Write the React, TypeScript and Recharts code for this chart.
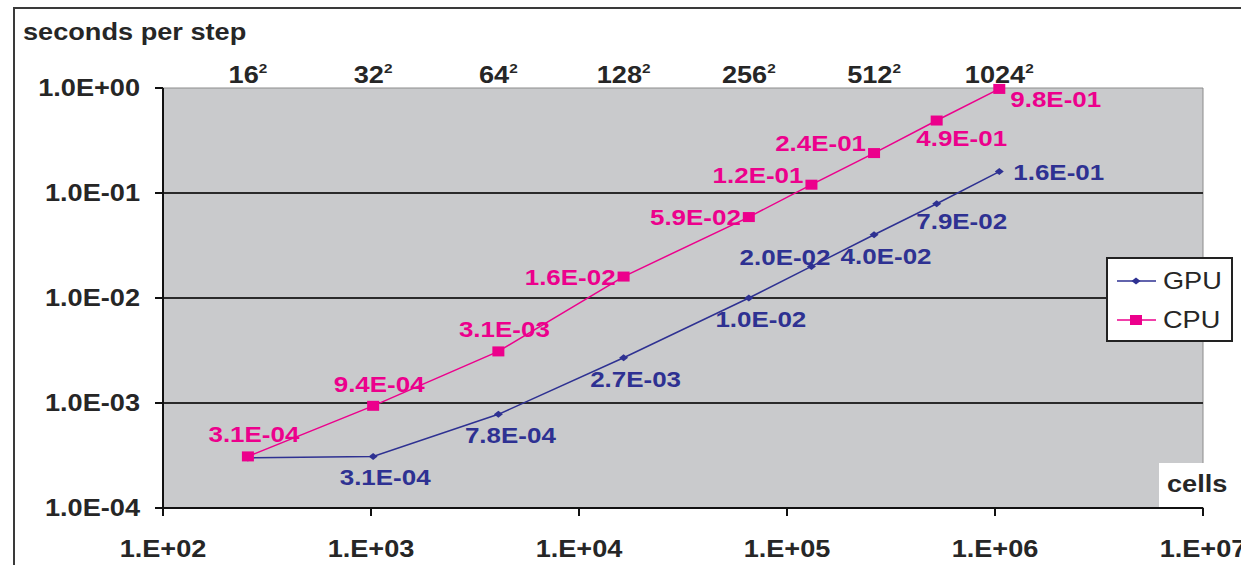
import { LineChart, Line, XAxis, YAxis, CartesianGrid, ReferenceLine, LabelList } from "recharts";

// number of cells (grid side squared)
const GRID_SIDES = [16, 32, 64, 128, 256, 512, 1024];
const CELLS = [256, 1024, 4096, 16384, 65536, 131072, 262144, 524288, 1048576];
const GPU_TIMES = [3.0e-4, 3.1e-4, 7.8e-4, 2.7e-3, 1.0e-2, 2.0e-2, 4.0e-2, 7.9e-2, 1.6e-1];
const CPU_TIMES = [3.1e-4, 9.4e-4, 3.1e-3, 1.6e-2, 5.9e-2, 1.2e-1, 2.4e-1, 4.9e-1, 9.8e-1];

const X_TICKS = [1e2, 1e3, 1e4, 1e5, 1e6, 1e7];
const Y_TICKS = [1e-4, 1e-3, 1e-2, 1e-1, 1];
const GRID_LINES = [1e-3, 1e-2, 1e-1];

// where each value label sits next to its point
const GPU_PLACE = [null, "bottom", "bottom", "bottom", "bottom", "overLeft", "bottom", "downRight", "right"];
const CPU_PLACE = ["top", "top", "top", "left", "left", "upLeft", "upLeft", "downRight", "rightLow"];

const GPU_COLOR = "#2e3192";
const CPU_COLOR = "#ec008c";
const TEXT = "#262626";
const FONT = "'Liberation Sans', Arial, sans-serif";
const SX = 1.18; // the picture is a bit wider than tall

const data = CELLS.map((c, i) => ({ cells: c, gpu: GPU_TIMES[i], cpu: CPU_TIMES[i] }));

const PLACE: Record<string, { dx: number; dy: number; anchor: "start" | "middle" | "end" }> = {
  top: { dx: 6, dy: -22, anchor: "middle" },
  bottom: { dx: 12, dy: 21, anchor: "middle" },
  left: { dx: -8, dy: 0, anchor: "end" },
  upLeft: { dx: -8, dy: -10, anchor: "end" },
  overLeft: { dx: 19, dy: -9, anchor: "end" },
  downRight: { dx: 25, dy: 17, anchor: "middle" },
  right: { dx: 14, dy: 0, anchor: "start" },
  rightLow: { dx: 11, dy: 10, anchor: "start" },
};

const sci = (v: number) => {
  const [m, e] = v.toExponential(1).split("e");
  const n = Math.abs(parseInt(e, 10));
  return `${m}E${e.startsWith("-") ? "-" : "+"}${n < 10 ? "0" + n : n}`;
};

const xLabel = (v: number) => {
  const e = Math.round(Math.log10(v));
  return `1.E+${e < 10 ? "0" + e : e}`;
};

const Stretch = ({ x, y, anchor, size, weight, fill, children }: any) => (
  <text
    transform={`translate(${x} ${y}) scale(${SX} 1)`}
    textAnchor={anchor}
    fontSize={size}
    fontWeight={weight}
    fill={fill}
    fontFamily={FONT}
  >
    {children}
  </text>
);

const makeLabel = (places: (string | null)[], color: string) => (props: any) => {
  const { x, y, value, index } = props;
  const p = places[index];
  if (!p) return null;
  const o = PLACE[p];
  return (
    <Stretch x={x + o.dx} y={y + o.dy + 8} anchor={o.anchor} size={22} weight="bold" fill={color}>
      {sci(value)}
    </Stretch>
  );
};

const YTick = ({ x, y, payload }: any) => (
  <Stretch x={x} y={y + 8} anchor="end" size={23} weight="bold" fill={TEXT}>
    {sci(payload.value)}
  </Stretch>
);

const XTick = ({ x, y, payload }: any) => (
  <Stretch x={x} y={y + 39} anchor="middle" size={23} weight="bold" fill={TEXT}>
    {xLabel(payload.value)}
  </Stretch>
);

const TopTick = ({ x, y, payload }: any) => {
  const side = Math.round(Math.sqrt(payload.value));
  return (
    <Stretch x={x} y={y - 5} anchor="middle" size={23} weight="bold" fill={TEXT}>
      {side}
      <tspan fontSize={13} dy={-10}>2</tspan>
    </Stretch>
  );
};

const Square = ({ cx, cy }: any) => <rect x={cx - 6} y={cy - 5} width={12} height={10} fill={CPU_COLOR} />;
const Diamond = ({ cx, cy }: any) => (
  <polygon points={`${cx - 4.5},${cy} ${cx},${cy - 3.5} ${cx + 4.5},${cy} ${cx},${cy + 3.5}`} fill={GPU_COLOR} />
);

export default function App() {
  return (
    <div style={{ position: "absolute", left: 0, top: 0, width: 1241, height: 565, overflow: "hidden", background: "#fff" }}>
      <div
        style={{
          position: "absolute", left: 13, top: 7, width: 1400, height: 700,
          borderLeft: "2px solid #3a3a3a", borderTop: "2px solid #3a3a3a",
        }}
      />
      <LineChart width={1241} height={565} data={data} margin={{ top: 0, right: 38, bottom: 0, left: 0 }}>
        <CartesianGrid fill="#c9cacc" horizontal={false} vertical={false} />
        <XAxis
          dataKey="cells" type="number" scale="log" domain={[1e2, 1e7]} ticks={X_TICKS}
          height={57} tickSize={8} tickMargin={2} tick={<XTick />}
          axisLine={{ stroke: "#111", strokeWidth: 2 }} tickLine={{ stroke: "#111", strokeWidth: 2 }}
        />
        <XAxis
          xAxisId="top" orientation="top" dataKey="cells" type="number" scale="log" domain={[1e2, 1e7]}
          ticks={GRID_SIDES.map((n) => n * n)} height={88} tickSize={0} tickMargin={0}
          axisLine={false} tickLine={false} tick={<TopTick />}
        />
        <YAxis
          type="number" scale="log" domain={[1e-4, 1]} ticks={Y_TICKS} width={163}
          tickSize={8} tickMargin={15} tick={<YTick />}
          axisLine={{ stroke: "#111", strokeWidth: 2 }} tickLine={{ stroke: "#111", strokeWidth: 2 }}
        />
        <ReferenceLine y={1} stroke="#8c8c8c" strokeWidth={1} />
        <ReferenceLine x={1e7} stroke="#8c8c8c" strokeWidth={1} />
        {GRID_LINES.map((v) => (
          <ReferenceLine key={v} y={v} stroke="#2a2a2a" strokeWidth={2} />
        ))}
        <Line dataKey="gpu" stroke={GPU_COLOR} strokeWidth={1.5} dot={<Diamond />} activeDot={false} isAnimationActive={false}>
          <LabelList dataKey="gpu" content={makeLabel(GPU_PLACE, GPU_COLOR)} />
        </Line>
        <Line dataKey="cpu" stroke={CPU_COLOR} strokeWidth={1.5} dot={<Square />} activeDot={false} isAnimationActive={false}>
          <LabelList dataKey="cpu" content={makeLabel(CPU_PLACE, CPU_COLOR)} />
        </Line>
      </LineChart>

      <div
        style={{
          position: "absolute", left: 23, top: 19, fontFamily: FONT, fontSize: 23, lineHeight: "26px",
          fontWeight: "bold", color: TEXT, transform: `scaleX(${SX})`, transformOrigin: "left center", whiteSpace: "nowrap",
        }}
      >
        seconds per step
      </div>

      <div style={{ position: "absolute", left: 1159, top: 463, width: 82, height: 44, background: "#fff" }}>
        <div
          style={{
            position: "absolute", left: 8, top: 8, fontFamily: FONT, fontSize: 23, lineHeight: "26px",
            fontWeight: "bold", color: TEXT, transform: `scaleX(${SX})`, transformOrigin: "left center",
          }}
        >
          cells
        </div>
      </div>

      <svg style={{ position: "absolute", left: 1106, top: 257 }} width={128} height={86}>
        <rect x={1} y={1} width={125} height={83} fill="#fff" stroke="#222" strokeWidth={2} />
        <line x1={11} y1={24} x2={50} y2={24} stroke={GPU_COLOR} strokeWidth={1.5} />
        <Diamond cx={30} cy={24} />
        <Stretch x={57} y={32} anchor="start" size={23} weight="normal" fill={TEXT}>GPU</Stretch>
        <line x1={11} y1={63} x2={50} y2={63} stroke={CPU_COLOR} strokeWidth={1.5} />
        <Square cx={30} cy={63} />
        <Stretch x={57} y={71} anchor="start" size={23} weight="normal" fill={TEXT}>CPU</Stretch>
      </svg>
    </div>
  );
}
